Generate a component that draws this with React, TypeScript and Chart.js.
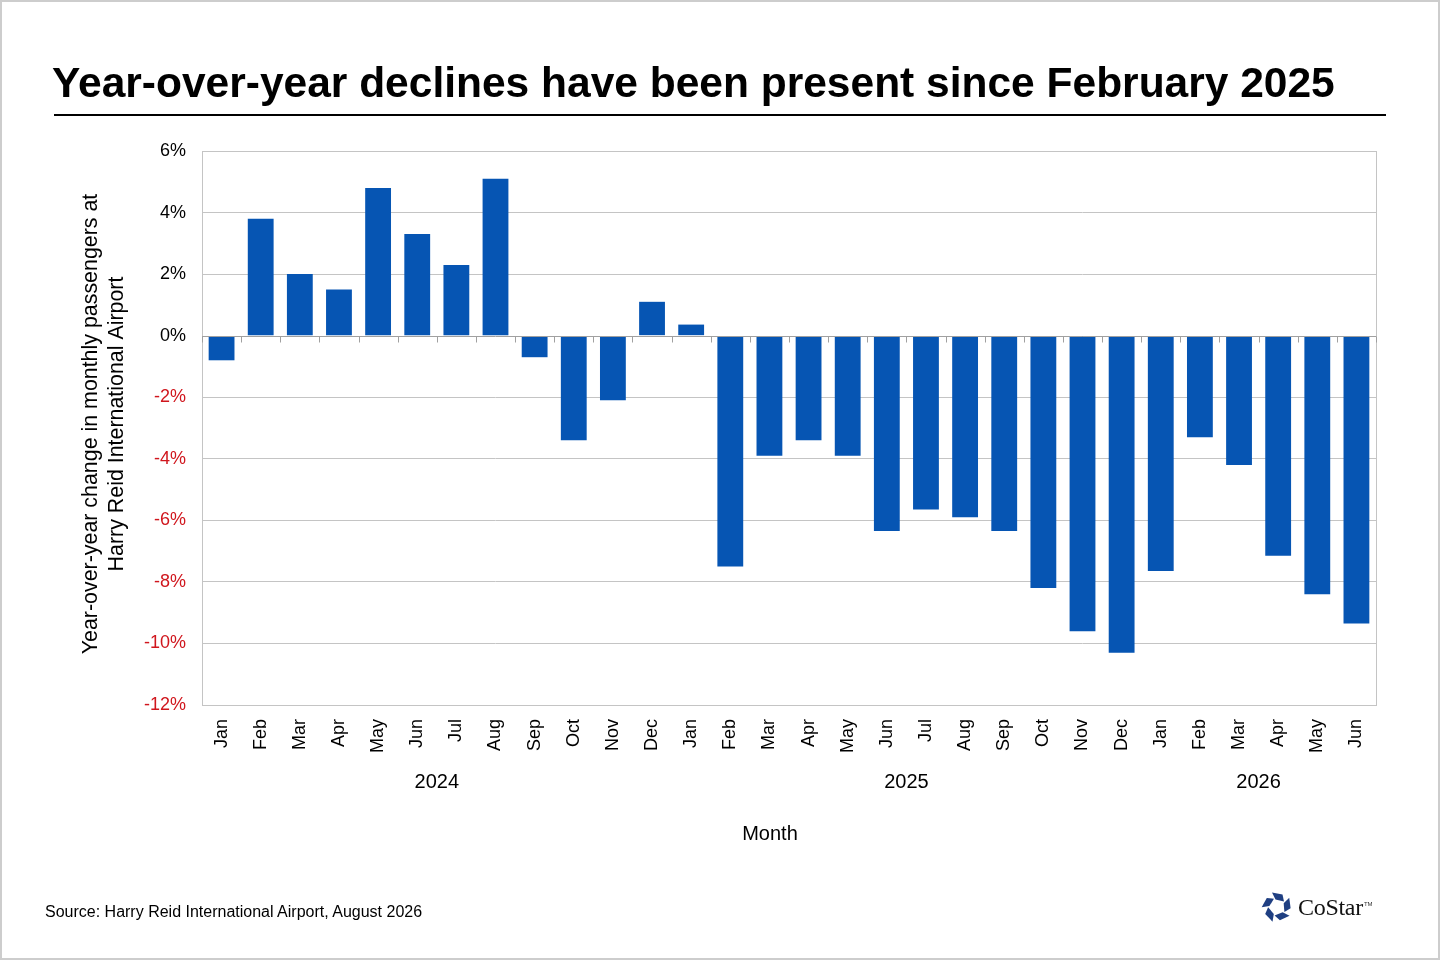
import React, { useEffect, useRef } from "react";
import { Chart, registerables } from "chart.js";

Chart.register(...registerables);

const monthLabels = [
  "Jan", "Feb", "Mar", "Apr", "May", "Jun", "Jul", "Aug", "Sep", "Oct", "Nov", "Dec",
  "Jan", "Feb", "Mar", "Apr", "May", "Jun", "Jul", "Aug", "Sep", "Oct", "Nov", "Dec",
  "Jan", "Feb", "Mar", "Apr", "May", "Jun",
];
const yearLabels = ["2024", "2025", "2026"];
const yearStarts = [0, 12, 24];
const yearEnds = [11, 23, 29];
const yoyChange = [
  -0.8, 3.8, 2.0, 1.5, 4.8, 3.3, 2.3, 5.1, -0.7, -3.4, -2.1, 1.1,
  0.36, -7.5, -3.9, -3.4, -3.9, -6.35, -5.65, -5.9, -6.35, -8.2, -9.6, -10.3,
  -7.65, -3.3, -4.2, -7.15, -8.4, -9.35,
];
const yTicks = [6, 4, 2, 0, -2, -4, -6, -8, -10, -12];

const FONT = "'Liberation Sans', Arial, sans-serif";

const extrasPlugin = {
  id: "extras",
  beforeDatasetsDraw(chart: any) {
    const { ctx, chartArea } = chart;
    ctx.save();
    ctx.strokeStyle = "#c4c4c4";
    ctx.lineWidth = 1;
    ctx.strokeRect(
      Math.round(chartArea.left) + 0.5,
      Math.round(chartArea.top) + 0.5,
      Math.round(chartArea.right - chartArea.left),
      Math.round(chartArea.bottom - chartArea.top)
    );
    ctx.restore();
  },
  afterDatasetsDraw(chart: any) {
    const { ctx, chartArea } = chart;
    const x = chart.scales.x;
    const y = chart.scales.y;
    const y0 = Math.round(y.getPixelForValue(0)) + 0.5;
    ctx.save();
    ctx.strokeStyle = "#a0a0a0";
    ctx.lineWidth = 1;
    ctx.beginPath();
    ctx.moveTo(chartArea.left, y0);
    ctx.lineTo(chartArea.right, y0);
    const n = monthLabels.length;
    const step = (x.getPixelForValue(n - 1) - x.getPixelForValue(0)) / (n - 1);
    for (let i = 0; i <= n; i++) {
      const px = Math.round(x.getPixelForValue(i) - step / 2) + 0.5;
      ctx.moveTo(px, y0);
      ctx.lineTo(px, y0 + 6);
    }
    ctx.stroke();
    ctx.restore();
  },
  afterDraw(chart: any) {
    const { ctx, chartArea } = chart;
    const x = chart.scales.x;
    ctx.save();
    ctx.fillStyle = "#000";
    ctx.textAlign = "center";
    ctx.textBaseline = "middle";
    ctx.font = `20px ${FONT}`;
    yearLabels.forEach((lab, i) => {
      const cx = (x.getPixelForValue(yearStarts[i]) + x.getPixelForValue(yearEnds[i])) / 2;
      ctx.fillText(lab, cx, chartArea.bottom + 77);
    });
    ctx.fillText("Month", (chartArea.left + chartArea.right) / 2 - 19, chartArea.bottom + 129);
    ctx.translate(104, (chartArea.top + chartArea.bottom) / 2 - 4);
    ctx.rotate(-Math.PI / 2);
    ctx.font = `21.4px ${FONT}`;
    ctx.fillText("Year-over-year change in monthly passengers at", 0, -13);
    ctx.fillText("Harry Reid International Airport", 0, 13);
    ctx.restore();
  },
};

function ChartCanvas() {
  const ref = useRef<HTMLCanvasElement | null>(null);
  useEffect(() => {
    if (!ref.current) return;
    const chart = new Chart(ref.current, {
      type: "bar",
      data: {
        labels: monthLabels,
        datasets: [
          {
            data: yoyChange,
            backgroundColor: "#0655B3",
            borderWidth: 0,
            barPercentage: 0.66,
            categoryPercentage: 1.0,
          },
        ],
      },
      options: {
        animation: false,
        responsive: false,
        maintainAspectRatio: false,
        devicePixelRatio: 1,
        layout: { padding: { left: 0, right: 64, top: 151, bottom: 0 } },
        plugins: {
          legend: { display: false },
          tooltip: { enabled: false },
          title: { display: false },
        },
        scales: {
          x: {
            grid: { display: false },
            border: { display: false },
            ticks: {
              color: "#000",
              font: { family: FONT, size: 18 },
              maxRotation: 90,
              minRotation: 90,
              padding: 6,
              autoSkip: false,
            },
            afterFit(scale: any) {
              scale.height = 255;
            },
          },
          y: {
            min: -12,
            max: 6,
            afterBuildTicks(scale: any) {
              scale.ticks = yTicks.map((v) => ({ value: v }));
            },
            grid: {
              color: (c: any) => (c.tick && c.tick.value === 0 ? "rgba(0,0,0,0)" : "#c4c4c4"),
              drawTicks: false,
              lineWidth: 1,
            },
            border: { display: false },
            ticks: {
              color: (c: any) => (c.tick && c.tick.value < 0 ? "#d0161d" : "#000"),
              font: { family: FONT, size: 18 },
              padding: 16,
              callback: (v: any) => `${v}%`,
            },
            afterFit(scale: any) {
              scale.width = 202;
            },
          },
        },
      },
      plugins: [extrasPlugin],
    });
    return () => chart.destroy();
  }, []);
  return (
    <canvas
      ref={ref}
      width={1440}
      height={960}
      style={{ position: "absolute", left: 0, top: 0, width: 1440, height: 960 }}
    />
  );
}

function Logo() {
  const piece = "-5,-14.5 5.5,-12.5 7,-5.5 -1.5,-7.5";
  return (
    <div style={{ position: "absolute", left: 1261, top: 891, display: "flex", alignItems: "center" }}>
      <svg width="32" height="32" viewBox="-16 -16 32 32">
        {[0, 72, 144, 216, 288].map((a) => (
          <polygon key={a} points={piece} fill="#1f3f82" transform={`rotate(${a})`} />
        ))}
      </svg>
      <span
        style={{
          fontFamily: "'Liberation Serif', 'DejaVu Serif', serif",
          fontSize: 24,
          color: "#111",
          marginLeft: 5,
          letterSpacing: -0.3,
        }}
      >
        CoStar
      </span>
      <span style={{ fontFamily: FONT, fontSize: 6, color: "#333", alignSelf: "flex-start", marginTop: 10, marginLeft: 1 }}>
        TM
      </span>
    </div>
  );
}

export default function App() {
  useEffect(() => {
    document.body.style.margin = "0";
  }, []);
  return (
    <div
      style={{
        position: "absolute",
        left: 0,
        top: 0,
        width: 1440,
        height: 960,
        background: "#fff",
        overflow: "hidden",
        fontFamily: FONT,
      }}
    >
      <ChartCanvas />
      <div
        style={{
          position: "absolute",
          left: 52,
          top: 57,
          fontSize: 42.5,
          fontWeight: 700,
          color: "#000",
          whiteSpace: "nowrap",
          lineHeight: "52px",
        }}
      >
        Year-over-year declines have been present since February 2025
      </div>
      <div style={{ position: "absolute", left: 54, top: 114, width: 1332, height: 2, background: "#000" }} />
      <div style={{ position: "absolute", left: 45, top: 903, fontSize: 16, color: "#000", whiteSpace: "nowrap" }}>
        Source: Harry Reid International Airport, August 2026
      </div>
      <Logo />
      <div
        style={{
          position: "absolute",
          left: 0,
          top: 0,
          width: 1440,
          height: 960,
          boxSizing: "border-box",
          border: "2px solid #cdcdcd",
          pointerEvents: "none",
        }}
      />
    </div>
  );
}
